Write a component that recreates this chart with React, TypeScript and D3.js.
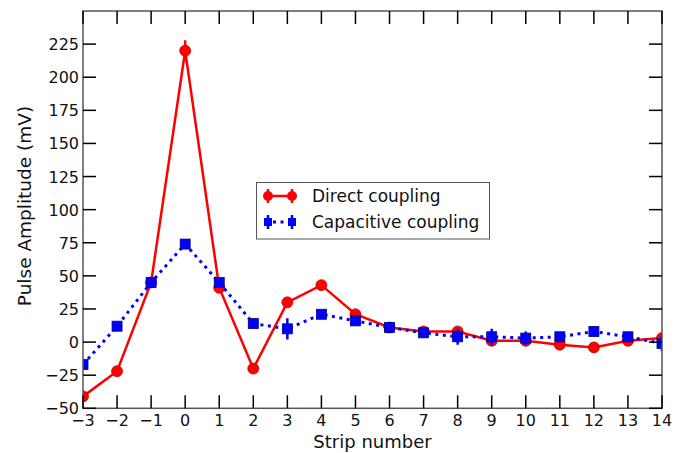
import React from 'react';
import * as d3 from 'd3';

const strips = [-3, -2, -1, 0, 1, 2, 3, 4, 5, 6, 7, 8, 9, 10, 11, 12, 13, 14];
const directValues = [-41, -22, 45, 220, 41, -20, 30, 43, 21, 11, 8, 8, 1, 1, -2, -4, 1, 3];
const directErrors = [2, 2, 2, 8, 2, 2, 2, 2, 2, 2, 2, 2, 2, 2, 2, 3, 2, 2];
const capValues = [-17, 12, 45, 74, 45, 14, 10, 21, 16, 11, 7, 4, 4, 3, 4, 8, 4, -1];
const capErrors = [2, 2, 2, 2, 2, 2, 8, 2, 2, 2, 2, 6, 6, 5, 3, 2, 2, 6];
const yTicks = [-50, -25, 0, 25, 50, 75, 100, 125, 150, 175, 200, 225];

const W = 688;
const H = 453;
const margin = { left: 83, right: 26, top: 11, bottom: 44 };
const font = 'DejaVu Sans, sans-serif';

export default function App() {
  const x = d3.scaleLinear().domain([-3, 14]).range([margin.left, W - margin.right]);
  const y = d3.scaleLinear().domain([-50, 250]).range([H - margin.bottom - 0.7, margin.top]);
  const line = d3.line<number>().x((_, i) => x(strips[i])).y((v) => y(v));
  const x0 = x.range()[0], x1 = x.range()[1];
  const y0 = y.range()[0], y1 = y.range()[1];
  const tl = 13;

  const errBars = (vals: number[], errs: number[], color: string) =>
    vals.map((v, i) => (
      <g key={i} stroke={color} strokeWidth={2.5}>
        <line x1={x(strips[i])} x2={x(strips[i])} y1={y(v - errs[i])} y2={y(v + errs[i])} />
      </g>
    ));

  return (
    <svg width={W} height={H} style={{ position: 'absolute', left: 0, top: 0 }} fontFamily={font}>
      <rect width={W} height={H} fill="white" />
      <defs>
        <clipPath id="plot">
          <rect x={x0} y={y1} width={x1 - x0} height={y0 - y1} />
        </clipPath>
      </defs>
      <g clipPath="url(#plot)">
        {errBars(directValues, directErrors, '#ff0000')}
        <path d={line(directValues) || ''} fill="none" stroke="#ff0000" strokeWidth={2.5} />
        {directValues.map((v, i) => (
          <circle key={i} cx={x(strips[i])} cy={y(v)} r={5.5} fill="#ff0000" stroke="#cc0000" strokeWidth={0.8} />
        ))}
        {errBars(capValues, capErrors, '#0000ff')}
        <path d={line(capValues) || ''} fill="none" stroke="#0000ff" strokeWidth={3} strokeDasharray="3,4.5" />
        {capValues.map((v, i) => (
          <rect key={i} x={x(strips[i]) - 5} y={y(v) - 5} width={10} height={10} fill="#0000ff" stroke="#000088" strokeWidth={0.8} />
        ))}
      </g>
      {/* axes frame */}
      <rect x={x0} y={y1} width={x1 - x0} height={y0 - y1} fill="none" stroke="#555" strokeWidth={1.5} />
      {strips.map((s) => (
        <g key={s} stroke="#000" strokeWidth={1.5}>
          <line x1={x(s)} x2={x(s)} y1={y0} y2={y0 - tl} />
          <line x1={x(s)} x2={x(s)} y1={y1} y2={y1 + tl} />
        </g>
      ))}
      {strips.map((s) => (
        <text key={s} x={x(s)} y={y0 + 17.5} fontSize={16} textAnchor="middle" fill="#111">
          {s < 0 ? '\u2212' + Math.abs(s) : s}
        </text>
      ))}
      {yTicks.map((t) => (
        <g key={t} stroke="#000" strokeWidth={1.5}>
          <line x1={x0} x2={x0 + tl} y1={y(t)} y2={y(t)} />
          <line x1={x1} x2={x1 - tl} y1={y(t)} y2={y(t)} />
        </g>
      ))}
      {yTicks.map((t) => (
        <text key={t} x={x0 - 4} y={y(t) + 6} fontSize={16} textAnchor="end" fill="#111">
          {t < 0 ? '\u2212' + Math.abs(t) : t}
        </text>
      ))}
      <text x={(x0 + x1) / 2} y={448} fontSize={18} textAnchor="middle" fill="#111">Strip number</text>
      <text transform="translate(31,206) rotate(-90)" fontSize={18.5} textAnchor="middle" fill="#111">
        Pulse Amplitude (mV)
      </text>
      {/* legend */}
      <g>
        <rect x={256.5} y={182.5} width={233} height={56.5} fill="white" stroke="#555" strokeWidth={1} />
        <g stroke="#ff0000" strokeWidth={2.5}>
          <line x1={268} x2={292} y1={196} y2={196} />
          <line x1={268} x2={268} y1={189} y2={203} />
          <line x1={292} x2={292} y1={189} y2={203} />
        </g>
        <circle cx={268} cy={196} r={5} fill="#ff0000" />
        <circle cx={292} cy={196} r={5} fill="#ff0000" />
        <text x={312} y={202} fontSize={17} fill="#111">Direct coupling</text>
        <g stroke="#0000ff" strokeWidth={2.5}>
          <line x1={268} x2={292} y1={222} y2={222} strokeWidth={3} strokeDasharray="3,4.5" strokeDashoffset={-5} />
          <line x1={268} x2={268} y1={215} y2={229} />
          <line x1={292} x2={292} y1={215} y2={229} />
        </g>
        <rect x={264} y={218} width={8} height={8} fill="#0000ff" />
        <rect x={288} y={218} width={8} height={8} fill="#0000ff" />
        <text x={312} y={228} fontSize={17} fill="#111">Capacitive coupling</text>
      </g>
    </svg>
  );
}
